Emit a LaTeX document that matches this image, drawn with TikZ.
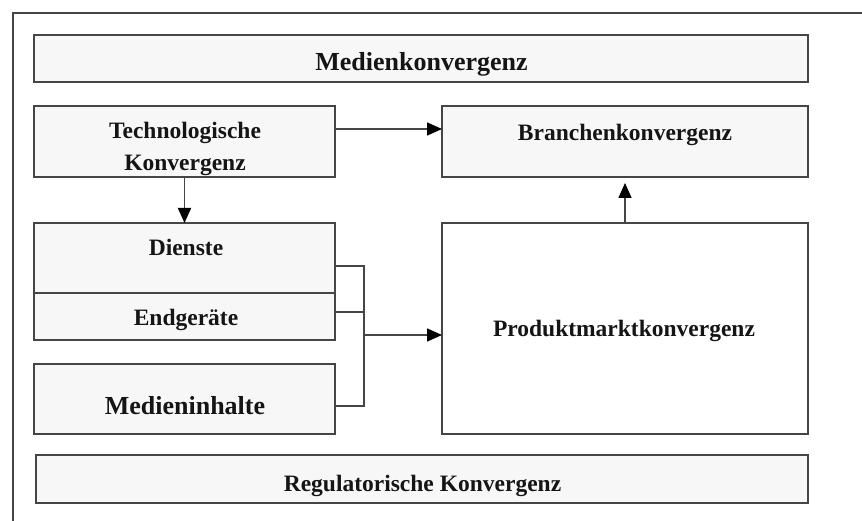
\documentclass[tikz,border=0pt]{standalone}
\usepackage{fontspec}
\setmainfont{Liberation Serif}
\usetikzlibrary{arrows.meta}
\definecolor{edge}{HTML}{454545}
\definecolor{boxfill}{HTML}{F7F7F7}
\definecolor{ink}{HTML}{151515}
\tikzset{
  box/.style={draw=edge, line width=2pt, fill=boxfill, inner sep=0pt, outer sep=0pt},
  wbox/.style={box, fill=white},
  lbl/.style={anchor=base, inner sep=0pt, text=ink, font=\fontsize{23.5}{30}\selectfont\bfseries},
  biglbl/.style={lbl, font=\fontsize{26}{32}\selectfont\bfseries},
  conn/.style={draw=edge, line width=1.6pt},
  arr/.style={conn, -{Triangle[length=15pt,width=13pt,color=black,fill=black]}}
}
\begin{document}
\begin{tikzpicture}[x=1pt,y=-1pt]
\useasboundingbox (0,0) rectangle (862,521);
% outer frame (cropped)
\draw[edge, line width=1.5pt] (13,521) -- (13,13) -- (862,13);

% boxes
\node[box, minimum width=774pt, minimum height=47pt] (med) at (421,58.5) {};
\node[box, minimum width=301pt, minimum height=71pt] (tech) at (184.5,141.5) {};
\node[box, minimum width=366pt, minimum height=71pt] (branch) at (625,141.5) {};
\node[box, minimum width=301pt, minimum height=70pt] (dienste) at (184.5,258) {};
\node[box, minimum width=301pt, minimum height=47pt] (endg) at (184.5,316.5) {};
\node[box, minimum width=301pt, minimum height=70pt] (medin) at (184.5,399) {};
\node[wbox, minimum width=366pt, minimum height=211pt] (prod) at (625,328.5) {};
\node[box, minimum width=772pt, minimum height=48pt] (reg) at (422,479) {};

% labels
\node[biglbl] (tmed) at (421.5,71) {Medienkonvergenz};
\node[lbl] (ttech1) at (185,139) {Technologische};
\node[lbl] (ttech2) at (185,171) {Konvergenz};
\node[lbl] (tbranch) at (625,141) {Branchenkonvergenz};
\node[lbl] (tdienste) at (186,255.5) {Dienste};
\node[lbl] (tendg) at (186,325) {Endgeräte};
\node[biglbl] (tmedin) at (185,414) {Medieninhalte};
\node[lbl] (tprod) at (624,337) {Produktmarktkonvergenz};
\node[lbl] (treg) at (422.5,491) {Regulatorische Konvergenz};

% connectors
\draw[arr] ([yshift=12.5pt]tech.east) -- ([yshift=12.5pt]branch.west);
\draw[arr] (tech.south) -- (dienste.north);
\draw[arr, shorten >=6pt] (prod.north) -- (branch.south);

\coordinate (dE) at ([yshift=-8pt]dienste.east);
\coordinate (eE) at ([yshift=4.5pt]endg.east);
\coordinate (mE) at ([yshift=-7pt]medin.east);
\coordinate (jtop) at (364,266);
\coordinate (jbot) at (364,406);
\coordinate (jmid) at (364,335);
\draw[conn] (dE) -- (jtop) -- (jbot) -- (mE);
\draw[conn] (eE) -- (eE -| jtop);
\draw[arr] (jmid) -- (jmid -| prod.west);
\end{tikzpicture}
\end{document}
